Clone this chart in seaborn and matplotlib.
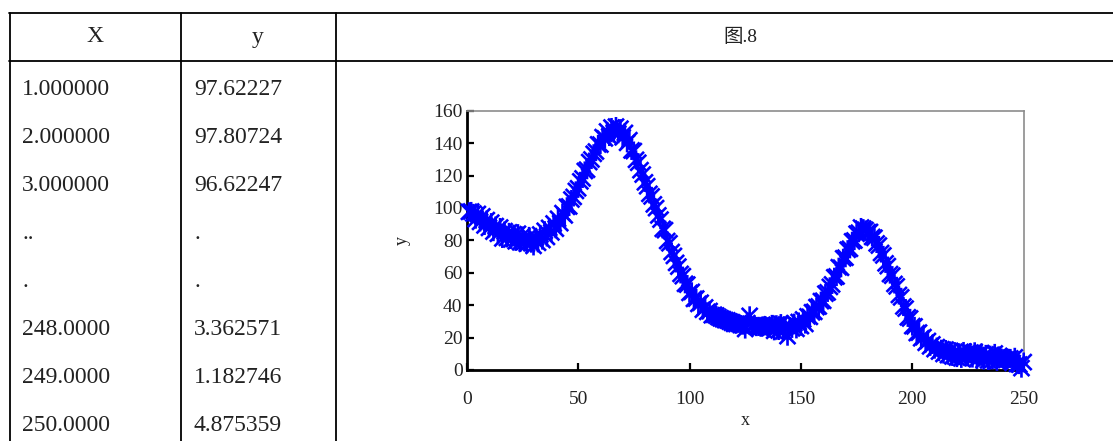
import numpy as np
import pandas as pd
import matplotlib
matplotlib.use("Agg")
import matplotlib.pyplot as plt
from matplotlib.path import Path
from matplotlib.lines import Line2D
import seaborn as sns

# ---------------- data ----------------
table_header = ["X", "y"]
table_x = ["1.000000", "2.000000", "3.000000", "..", ".", "248.0000", "249.0000", "250.0000"]
table_y = ["97.62227", "97.80724", "96.62247", ".", ".", "3.362571", "1.182746", "4.875359"]
chart_title = "图.8"

x_values = list(range(1, 251))
y_values = [
    97.6, 97.8, 96.6, 93.1, 96.3, 91.4, 94.8, 89.2, 92.5, 87.7,
    90.9, 85.4, 88.8, 84.1, 87.9, 81.2, 85.7, 81.5, 84.9, 80.6,
    83.8, 79.4, 84.1, 78.8, 82.7, 79.2, 77.9, 82.4, 78.3, 76.6,
    81.8, 78.5, 83.6, 80.2, 85.9, 82.1, 87.7, 84.9, 90.4, 87.2,
    93.3, 90.6, 96.8, 95.4, 100.7, 100.9, 105.2, 106.8, 110.5, 112.1,
    116.4, 118.2, 122.8, 123.6, 128.3, 129.9, 133.4, 134.8, 139.2, 139.1,
    143.7, 142.9, 147.2, 144.1, 149.6, 146.3, 150.2, 145.8, 148.9, 143.6,
    146.3, 140.2, 141.8, 135.5, 135.1, 129.7, 127.9, 123.3, 120.6, 115.8,
    113.4, 108.7, 107.1, 102.2, 99.9, 95.4, 92.8, 87.1, 86.3, 79.6,
    78.2, 72.8, 70.4, 66.1, 63.8, 59.3, 57.9, 53.2, 52.7, 47.6,
    48.2, 43.9, 44.1, 40.8, 41.5, 37.2, 38.6, 35.9, 36.4, 33.8,
    34.1, 33.6, 32.7, 31.9, 31.4, 30.8, 30.6, 29.9, 29.2, 28.5,
    28.4, 28.8, 27.9, 27.7, 25.3, 28.9, 33.4, 27.1, 27.6, 26.8,
    26.9, 26.4, 27.2, 27.3, 26.7, 25.8, 28.1, 24.2, 27.9, 24.4,
    28.6, 23.8, 27.3, 20.9, 26.8, 25.7, 28.9, 25.4, 29.6, 27.1,
    31.2, 28.4, 33.1, 32.8, 35.6, 35.9, 38.8, 39.2, 42.5, 42.7,
    47.1, 47.9, 51.3, 52.8, 57.2, 57.7, 63.4, 63.1, 68.9, 69.3,
    74.2, 74.8, 79.4, 79.9, 84.1, 84.7, 87.9, 87.2, 86.4, 85.1,
    85.2, 82.1, 81.6, 78.1, 76.8, 72.2, 70.7, 65.8, 64.1, 59.2,
    58.2, 53.1, 51.6, 46.3, 44.8, 39.2, 37.9, 32.5, 31.8, 27.1,
    26.9, 22.8, 23.1, 19.6, 20.3, 16.8, 17.9, 14.6, 15.8, 12.9,
    14.1, 11.4, 12.8, 9.9, 12.6, 9.2, 11.8, 8.4, 11.3, 7.7,
    10.6, 7.2, 11.4, 8.1, 8.8, 10.7, 7.4, 11.2, 6.6, 9.8,
    10.4, 6.1, 9.6, 5.9, 9.1, 6.3, 10.2, 5.4, 8.7, 7.3,
    6.9, 6.4, 7.2, 7.1, 4.4, 7.8, 3.7, 3.36, 1.18, 4.88,
]
x_ticks = [0, 50, 100, 150, 200, 250]
y_ticks = [0, 20, 40, 60, 80, 100, 120, 140, 160]

df = pd.DataFrame({"x": x_values, "y": y_values})

# ---------------- figure ----------------
sns.set_theme(style="white")
plt.rcParams["font.family"] = ["Liberation Serif", "Noto Sans CJK SC", "DejaVu Sans"]

W, H = 1113, 441
fig = plt.figure(figsize=(W / 100, H / 100), dpi=100)
fig.patch.set_facecolor("white")

# background layer for the table (pixel coordinates)
bg = fig.add_axes([0, 0, 1, 1])
bg.set_xlim(0, W)
bg.set_ylim(H, 0)
bg.axis("off")

lw = 1.3
bg.add_line(Line2D([9, W], [12.5, 12.5], color="black", lw=lw))
bg.add_line(Line2D([9, W], [60.5, 60.5], color="black", lw=lw))
for vx in [9.5, 180.5, 335.5]:
    bg.add_line(Line2D([vx, vx], [12.5, H], color="black", lw=lw))

tfont = dict(fontsize=17, color="#222222", family=["Liberation Serif", "Noto Sans CJK SC"])
bg.text(94.5, 37, table_header[0], ha="center", va="center", **tfont)
bg.text(257.5, 37, table_header[1], ha="center", va="center", **tfont)
bg.text(740, 37, chart_title, ha="center", va="center", fontsize=14, color="#222222",
        family=["Liberation Serif", "Noto Sans CJK SC"])

row_y0, row_dy = 87, 48
for i, (a, b) in enumerate(zip(table_x, table_y)):
    yy = row_y0 + i * row_dy + 8
    bg.text(22, yy, a, ha="left", va="baseline", **tfont)
    bg.text(194, yy, b, ha="left", va="baseline", **tfont)

# ---------------- chart ----------------
ax = fig.add_axes([466.7 / W, 71 / H, 557 / W, 259.3 / H])
ax.set_facecolor("white")

star = Path(
    [(-0.5, -0.5), (0.5, 0.5), (-0.5, 0.5), (0.5, -0.5), (0, -0.6), (0, 0.6)],
    [Path.MOVETO, Path.LINETO, Path.MOVETO, Path.LINETO, Path.MOVETO, Path.LINETO],
)

sns.scatterplot(data=df, x="x", y="y", ax=ax, marker=star, s=190,
                facecolor="none", edgecolor="#0000FF", color="#0000FF",
                linewidth=1.9, clip_on=False, zorder=3, legend=False)

ax.set_xlim(0, 250)
ax.set_ylim(0, 160)
ax.set_xticks(x_ticks)
ax.set_yticks(y_ticks)
ax.set_xticklabels([str(t) for t in x_ticks])
ax.set_yticklabels([str(t) for t in y_ticks])

for side in ["left", "bottom"]:
    ax.spines[side].set_color("black")
    ax.spines[side].set_linewidth(2.0)
for side in ["top", "right"]:
    ax.spines[side].set_color("#8c8c8c")
    ax.spines[side].set_linewidth(1.2)
    ax.spines[side].set_visible(True)

ax.tick_params(axis="x", direction="in", length=5, width=1.6, colors="black",
               labelsize=14, labelcolor="#222222", pad=15, bottom=True)
ax.tick_params(axis="y", direction="in", length=5, width=1.6, colors="black",
               labelsize=14, labelcolor="#222222", pad=3, left=True)

ax.set_xlabel("x", fontsize=13, color="#222222", labelpad=3)
ax.set_ylabel("y", fontsize=13, color="#222222", labelpad=16)
ax.grid(False)

fig.savefig("out.png", dpi=100, facecolor="white")
